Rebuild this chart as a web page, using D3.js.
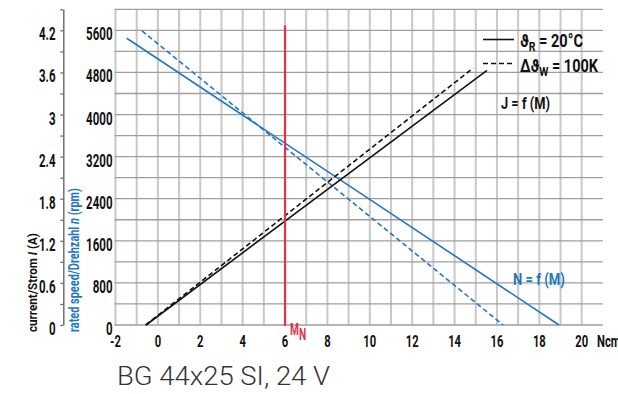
<!DOCTYPE html>
<html>
<head>
<meta charset="utf-8">
<script src="https://cdn.jsdelivr.net/npm/d3@7"></script>
<style>
  html, body { margin: 0; padding: 0; background: #fff; }
  svg { display: block; }
</style>
</head>
<body>
<svg id="chart" width="618" height="394"></svg>
<script>
// ---------- data ----------
const xTicks = [-2, 0, 2, 4, 6, 8, 10, 12, 14, 16, 18, 20];
const speedTicks = [0, 800, 1600, 2400, 3200, 4000, 4800, 5600];
const currentTicks = [0, 0.6, 1.2, 1.8, 2.4, 3, 3.6, 4.2];
const currentTickLabels = ["0", "0.6", "1.2", "1.8", "2.4", "3", "3.6", "4.2"];

// speed n = f(M)  (rpm)
const speedSolidM = [-1.47, 18.93];
const speedSolidN = [5450, 0];
const speedDashedM = [-0.75, 16.29];
const speedDashedN = [5590, 0];

// current I = f(M)  (A)
const currentSolidM = [-0.56, 15.53];
const currentSolidI = [0, 3.63];
const currentDashedM = [-0.58, 14.87];
const currentDashedI = [0, 3.66];

// rated torque M_N
const ratedTorque = 6;
const ratedLineTop = 5690;

// ---------- scales ----------
const svg = d3.select("#chart");
const x = d3.scaleLinear().domain([-2, 21]).range([115.5, 602.9]);
const yN = d3.scaleLinear().domain([0, 6000]).range([325, 9.3]);
const yI = d3.scaleLinear().domain([0, 4.5]).range([325, 9.3]);

const FONT = "Roboto, 'DejaVu Sans', sans-serif";
const BLUE = "#1f78c1";
const RED = "#e2324a";

// condensed text helper
function ctext(parent, px, py, opts) {
  const g = parent.append("g");
  const t = g.append("text")
    .attr("font-family", FONT)
    .attr("font-weight", opts.weight || 700)
    .attr("font-size", opts.size)
    .attr("fill", opts.fill || "#111")
    .attr("text-anchor", opts.anchor || "start");
  if (opts.build) opts.build(t); else t.text(opts.text);
  let sx = opts.sx || 0.7;
  if (opts.target) {
    const len = t.node().getComputedTextLength();
    sx = opts.target / len;
  }
  g.attr("transform", `translate(${px},${py})${opts.rotate ? " rotate(-90)" : ""} scale(${sx},1)`);
  return t;
}

// ---------- grid ----------
const grid = svg.append("g");
const vLines = d3.range(-2, 21, 1);
grid.selectAll("line.v").data(vLines).join("line")
  .attr("x1", d => x(d)).attr("x2", d => x(d))
  .attr("y1", yN(6000)).attr("y2", yN(0))
  .attr("stroke", "#c8c8c8").attr("stroke-width", 2);
const hLines = d3.range(0, 6001, 400);
grid.selectAll("line.h").data(hLines).join("line")
  .attr("x1", x(-2) - 1).attr("x2", x(21))
  .attr("y1", d => yN(d)).attr("y2", d => yN(d))
  .attr("stroke", "#9e9e9e").attr("stroke-width", 1.3);

// ---------- curves ----------
const lineN = d3.line().x(d => x(d[0])).y(d => yN(d[1]));
const lineI = d3.line().x(d => x(d[0])).y(d => yI(d[1]));

svg.append("path").datum(d3.zip(speedSolidM, speedSolidN))
  .attr("d", lineN).attr("fill", "none").attr("stroke", BLUE).attr("stroke-width", 1.6);
svg.append("path").datum(d3.zip(speedDashedM, speedDashedN))
  .attr("d", lineN).attr("fill", "none").attr("stroke", BLUE).attr("stroke-width", 1.6)
  .attr("stroke-dasharray", "5,3");
svg.append("path").datum(d3.zip(currentSolidM, currentSolidI))
  .attr("d", lineI).attr("fill", "none").attr("stroke", "#111").attr("stroke-width", 1.6);
svg.append("path").datum(d3.zip(currentDashedM, currentDashedI))
  .attr("d", lineI).attr("fill", "none").attr("stroke", "#111").attr("stroke-width", 1.6)
  .attr("stroke-dasharray", "5,3");

// rated torque line
svg.append("line")
  .attr("x1", x(ratedTorque)).attr("x2", x(ratedTorque))
  .attr("y1", yN(ratedLineTop)).attr("y2", yN(0) + 1)
  .attr("stroke", RED).attr("stroke-width", 2.2);
ctext(svg, x(ratedTorque) + 5, 335, {
  size: 17, fill: RED, sx: 0.6,
  build: t => {
    t.append("tspan").text("M");
    t.append("tspan").attr("dy", 5).text("N");
  }
});

// ---------- current axis (left) ----------
const currentAxisX = 63.3;
const minorI = d3.range(0, 4.51, 0.3);
const axI = svg.append("g").attr("transform", `translate(${currentAxisX},0)`)
  .call(d3.axisLeft(yI).tickValues(minorI).tickSize(3).tickSizeOuter(0).tickFormat(""));
axI.select(".domain").attr("stroke", "#666").attr("stroke-width", 1.4);
axI.selectAll(".tick line").attr("stroke", "#666").attr("stroke-width", 1.2);

currentTicks.forEach((v, i) => {
  ctext(svg, 55.5, yI(v) + 10, { text: currentTickLabels[i], size: 18, anchor: "end", sx: 0.64 });
});

// ---------- speed axis labels ----------
speedTicks.forEach(v => {
  ctext(svg, 112.5, yN(v) + 10, { text: String(v), size: 18, anchor: "end", sx: 0.64 });
});

// ---------- x axis labels ----------
xTicks.forEach(v => {
  ctext(svg, x(v), 346.5, { text: String(v), size: 17, anchor: "middle", sx: 0.66 });
});
ctext(svg, 597, 346.5, { text: "Ncm", size: 17, anchor: "start", sx: 0.66 });

// ---------- axis titles ----------
ctext(svg, 36.5, 332, {
  size: 13, rotate: true, target: 99,
  build: t => {
    t.append("tspan").text("current/Strom ");
    t.append("tspan").attr("font-style", "italic").text("I");
    t.append("tspan").text(" (A)");
  }
});
ctext(svg, 79, 332, {
  size: 14, rotate: true, target: 144, fill: BLUE,
  build: t => {
    t.append("tspan").text("rated speed/Drehzahl ");
    t.append("tspan").attr("font-style", "italic").text("n");
    t.append("tspan").text(" (rpm)");
  }
});

// ---------- legend ----------
svg.append("line").attr("x1", 483).attr("x2", 514).attr("y1", 39.5).attr("y2", 39.5)
  .attr("stroke", "#111").attr("stroke-width", 1.6);
svg.append("line").attr("x1", 483).attr("x2", 514).attr("y1", 63.5).attr("y2", 63.5)
  .attr("stroke", "#111").attr("stroke-width", 1.6).attr("stroke-dasharray", "5,3");

ctext(svg, 520, 46.5, {
  size: 18, target: 63,
  build: t => {
    t.append("tspan").text("ϑ");
    t.append("tspan").attr("font-size", 13).attr("dy", 4).text("R");
    t.append("tspan").attr("dy", -4).text(" = 20°C");
  }
});
ctext(svg, 520, 72, {
  size: 18, target: 78,
  build: t => {
    t.append("tspan").text("Δϑ");
    t.append("tspan").attr("font-size", 13).attr("dy", 4).text("W");
    t.append("tspan").attr("dy", -4).text(" = 100K");
  }
});
ctext(svg, 501, 109, { text: "J = f (M)", size: 17, target: 49 });
ctext(svg, 513, 285, { text: "N = f (M)", size: 17, target: 52, fill: BLUE });

// ---------- caption ----------
svg.append("text")
  .attr("x", 117).attr("y", 385)
  .attr("font-family", FONT).attr("font-weight", 300)
  .attr("font-size", 25).attr("fill", "#333")
  .attr("textLength", 213).attr("lengthAdjust", "spacingAndGlyphs")
  .text("BG 44x25 SI, 24 V");
</script>
</body>
</html>
